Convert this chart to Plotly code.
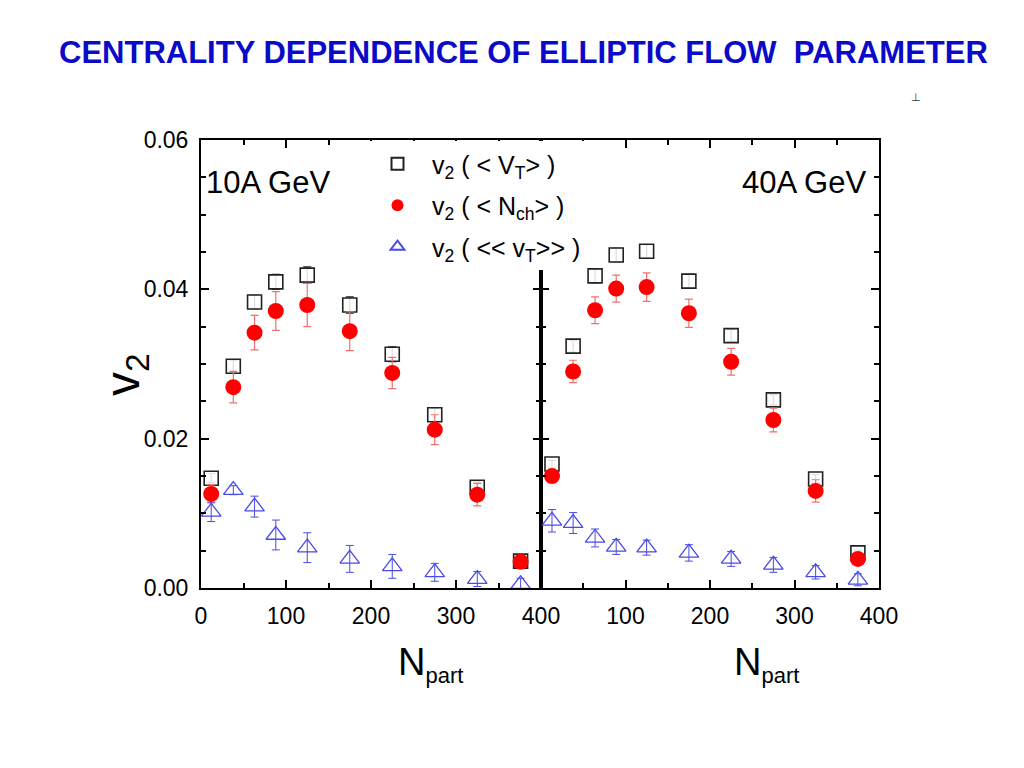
import plotly.graph_objects as go

# ---------------- data ----------------
npart_10 = [12, 38, 63, 88, 125, 175, 225, 275, 325, 376]
npart_40 = [13, 38, 64, 89, 125, 175, 225, 275, 325, 375]

# 10A GeV
v2_VT_10 = [0.0147, 0.0297, 0.0383, 0.0410, 0.0419, 0.0379, 0.0313, 0.0232, 0.0135, 0.0036]
err_VT_10 = [0.0006, 0.0008, 0.0009, 0.0010, 0.0011, 0.0011, 0.0010, 0.0009, 0.0007, 0.0004]
v2_Nch_10 = [0.0126, 0.0269, 0.0342, 0.0371, 0.0379, 0.0344, 0.0288, 0.0212, 0.0125, 0.0035]
err_Nch_10 = [0.0012, 0.0021, 0.0023, 0.0026, 0.0029, 0.0026, 0.0021, 0.0020, 0.0015, 0.0005]
v2_vT_10 = [0.0102, 0.0131, 0.0109, 0.0071, 0.0054, 0.0039, 0.0029, 0.0021, 0.0012, 0.0005]
err_vT_10 = [0.0013, 0.0006, 0.0014, 0.0020, 0.0020, 0.0018, 0.0016, 0.0012, 0.0010, 0.0008]

# 40A GeV
v2_VT_40 = [0.0166, 0.0324, 0.0418, 0.0446, 0.0451, 0.0411, 0.0338, 0.0252, 0.0146, 0.0047]
err_VT_40 = [0.0005, 0.0008, 0.0009, 0.0009, 0.0009, 0.0009, 0.0008, 0.0007, 0.0006, 0.0004]
v2_Nch_40 = [0.0150, 0.0290, 0.0372, 0.0401, 0.0403, 0.0368, 0.0303, 0.0225, 0.0130, 0.0039]
err_Nch_40 = [0.0008, 0.0015, 0.0018, 0.0018, 0.0019, 0.0019, 0.0018, 0.0016, 0.0015, 0.0006]
v2_vT_40 = [0.0090, 0.0087, 0.0067, 0.0055, 0.0054, 0.0047, 0.0039, 0.0031, 0.0021, 0.0011]
err_vT_40 = [0.0015, 0.0014, 0.0012, 0.0010, 0.0010, 0.0011, 0.0010, 0.0010, 0.0009, 0.0008]

legend_names = ["v<sub>2</sub> ( < V<sub>T</sub>> )",
                "v<sub>2</sub> ( < N<sub>ch</sub>> )",
                "v<sub>2</sub> ( << v<sub>T</sub>>> )"]
panel_labels = ["10A GeV", "40A GeV"]
title_text = "CENTRALITY DEPENDENCE OF ELLIPTIC FLOW  PARAMETER"
ytick_vals = [0.0, 0.02, 0.04, 0.06]
ytick_text = ["0.00", "0.02", "0.04", "0.06"]

# ---------------- layout geometry (pixels) ----------------
W, H = 1024, 768
OFF = 8  # page body offset
ML, MR = 201 - OFF, W - (879 - OFF)
MT, MB = 140 - OFF, H - (588 - OFF)
PW, PH = W - ML - MR, H - MT - MB
def px(x):
    return (x - OFF - ML) / PW
def py(y):
    return (H - MB - (y - OFF)) / PH

SANS = "Liberation Sans, Arial, sans-serif"

sq_color = "#222222"
red = "#ff0000"
red_err = "#f07070"
blue = "#4a4ae6"

fig = go.Figure()

def add_panel(xs, vt, evt, nch, ench, vT, evT, xa, ya, show):
    fig.add_trace(go.Scatter(
        x=xs, y=vt, mode="markers", name=legend_names[0], showlegend=show,
        legendgroup="a", xaxis=xa, yaxis=ya,
        marker=dict(symbol="square", size=14, color="rgba(255,255,255,0.85)",
                    line=dict(width=1.6, color=sq_color)),
        error_y=dict(type="data", array=evt, color=sq_color, thickness=1.2, width=4)))
    fig.add_trace(go.Scatter(
        x=xs, y=nch, mode="markers", name=legend_names[1], showlegend=show,
        legendgroup="b", xaxis=xa, yaxis=ya,
        marker=dict(symbol="circle", size=16, color=red),
        error_y=dict(type="data", array=ench, color=red_err, thickness=1.2, width=4)))
    fig.add_trace(go.Scatter(
        x=xs, y=vT, mode="markers", name=legend_names[2], showlegend=show,
        legendgroup="c", xaxis=xa, yaxis=ya,
        marker=dict(symbol="triangle-up-open", size=17, color=blue, line=dict(width=1.3)),
        error_y=dict(type="data", array=evT, color=blue, thickness=1.0, width=4)))

add_panel(npart_10, v2_VT_10, err_VT_10, v2_Nch_10, err_Nch_10, v2_vT_10, err_vT_10, "x", "y", True)
add_panel(npart_40, v2_VT_40, err_VT_40, v2_Nch_40, err_Nch_40, v2_vT_40, err_vT_40, "x2", "y2", False)

tickfont = dict(family=SANS, size=23, color="black")
common_x = dict(range=[0, 400], showline=True, linecolor="black", linewidth=2, mirror="ticks",
                ticks="inside", ticklen=8, tickwidth=2, tickcolor="black", automargin=False,
                minor=dict(dtick=50, ticks="inside", ticklen=5, tickwidth=1.5, tickcolor="black"),
                showgrid=False, zeroline=False, tickfont=tickfont, ticklabelstandoff=6)
common_y = dict(range=[0, 0.06], showline=True, linecolor="black", linewidth=2, mirror="ticks",
                ticks="inside", ticklen=8, tickwidth=2, tickcolor="black", automargin=False,
                tickvals=ytick_vals,
                minor=dict(dtick=0.005, ticks="inside", ticklen=5, tickwidth=1.5, tickcolor="black"),
                showgrid=False, zeroline=False)

split = 340 / PW

fig.update_layout(
    width=W, height=H, margin=dict(l=ML, r=MR, t=MT, b=MB, pad=0),
    paper_bgcolor="white", plot_bgcolor="white",
    xaxis=dict(domain=[0, split], tickvals=[0, 100, 200, 300, 400], **common_x),
    xaxis2=dict(domain=[split, 1], anchor="y2", tickvals=[100, 200, 300, 400], **common_x),
    yaxis=dict(domain=[0, 1], ticktext=ytick_text, tickfont=dict(family=SANS, size=23, color="black"),
               ticklabelstandoff=6, **common_y),
    yaxis2=dict(domain=[0, 1], anchor="x2", showticklabels=False, **common_y),
    legend=dict(x=px(363), y=py(141), xanchor="left", yanchor="top",
                bgcolor="white", borderwidth=0,
                font=dict(family=SANS, size=25, color="black"),
                itemsizing="constant", itemwidth=59, tracegroupgap=6),
    showlegend=True,
)

annotations = [
    dict(text=title_text, x=px(523), y=py(52), xref="paper", yref="paper",
         showarrow=False, xanchor="center", yanchor="middle",
         font=dict(family=SANS, size=31, color="#0a0ac8", weight="bold")),
    dict(text="⊥", x=px(923), y=py(89), xref="paper", yref="paper", showarrow=False,
         font=dict(family=SANS, size=11, color="#333333")),
    dict(text=panel_labels[0], x=px(204), y=py(182), xref="paper", yref="paper",
         showarrow=False, xanchor="left", yanchor="middle",
         font=dict(family=SANS, size=31, color="black")),
    dict(text=panel_labels[1], x=px(868), y=py(182), xref="paper", yref="paper",
         showarrow=False, xanchor="right", yanchor="middle",
         font=dict(family=SANS, size=31, color="black")),
    dict(text="v<sub>2</sub>", x=px(126), y=py(375), xref="paper", yref="paper",
         showarrow=False, textangle=-90, xanchor="center", yanchor="middle",
         font=dict(family=SANS, size=48, color="black")),
    dict(text="N<sub><span style='font-size:22px'>part</span></sub>", x=px(430), y=py(664), xref="paper", yref="paper",
         showarrow=False, xanchor="center", yanchor="middle",
         font=dict(family=SANS, size=38, color="black")),
    dict(text="N<sub><span style='font-size:22px'>part</span></sub>", x=px(766), y=py(664), xref="paper", yref="paper",
         showarrow=False, xanchor="center", yanchor="middle",
         font=dict(family=SANS, size=38, color="black")),
]
fig.update_layout(annotations=annotations)

fig.write_html("out.html")
